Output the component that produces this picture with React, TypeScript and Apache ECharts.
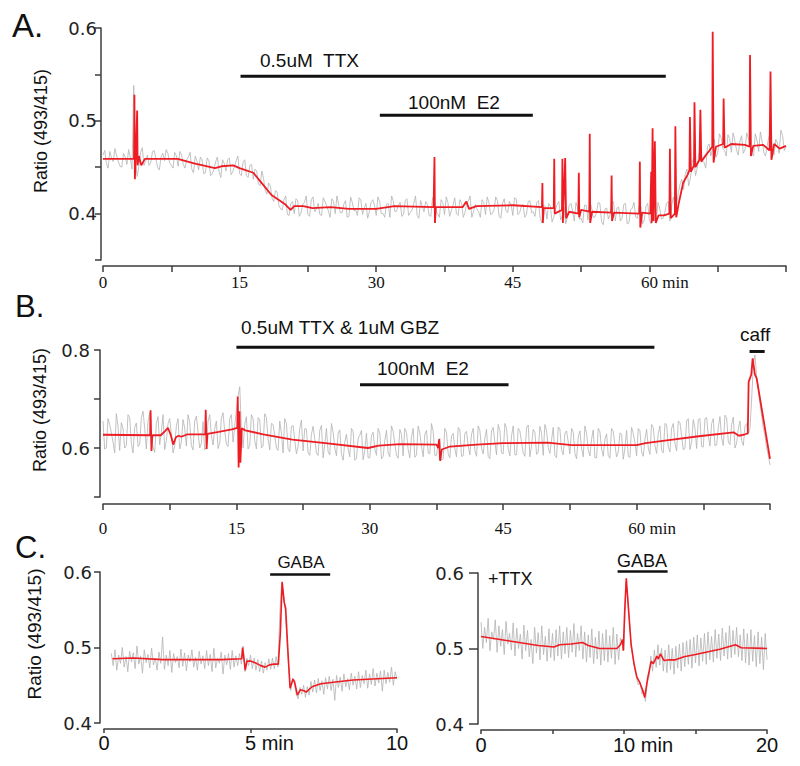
import React, { useEffect, useRef } from "react";
import * as echarts from "echarts";

// ---------------- DATA ----------------
// Panel A: raw (gray) ratio trace, sampled every 0.1875 min from 0 to 75 min, values x1000
const grayAStep = 0.1875;
const grayA = [
  463,468,454,449,467,460,456,470,462,456,451,450,465,461,453,469,460,448,538,455,
  440,451,466,471,452,457,463,452,455,467,468,459,450,447,461,465,457,469,465,455,
  452,449,466,462,451,467,463,453,449,458,461,466,448,444,462,457,447,461,458,443,
  444,460,457,441,443,448,456,461,445,439,458,454,446,458,460,442,445,451,457,462,
  443,441,455,458,441,439,452,453,437,448,446,432,430,446,438,425,421,433,430,417,
  413,425,423,409,405,404,415,419,399,398,411,413,400,416,414,397,401,410,412,419,
  399,397,415,418,402,405,411,399,398,417,413,408,403,396,416,413,400,419,410,401,
  401,410,414,396,397,418,412,403,404,398,417,415,399,406,411,395,402,412,415,409,
  398,418,413,400,400,396,410,411,396,419,414,402,403,409,412,397,399,414,416,398,
  401,404,411,419,398,395,414,408,402,413,410,398,397,417,413,402,400,396,415,412,
  399,418,412,397,403,409,417,400,398,415,411,396,401,411,414,419,396,402,410,405,
  402,396,415,412,399,418,412,399,400,404,418,414,397,395,411,416,403,401,413,410,
  398,417,416,399,401,408,410,396,399,413,414,401,402,397,412,414,395,390,409,408,
  394,411,408,391,396,404,410,413,393,398,407,389,397,409,411,403,392,412,406,394,
  395,390,409,409,393,413,408,396,396,401,412,411,391,388,405,406,394,399,410,413,
  392,406,407,392,395,410,411,389,390,404,406,412,396,395,409,408,389,393,408,411,
  393,389,410,407,391,412,406,394,395,401,411,413,392,408,418,404,410,423,432,437,
  426,442,448,430,438,455,460,441,449,465,468,457,455,449,472,475,462,470,480,461,
  465,486,482,470,468,462,485,481,466,487,479,469,463,478,484,465,469,487,481,476,
  464,462,486,479,467,488,478,466,462,473,483,487,470,463,480,476,465,490,484,468,
  472,
];
// Panel A: filtered (red) trace [min, ratio]
const redA: [number, number][] = [
  [0,0.459],[3.4,0.459],[3.45,0.528],[3.5,0.437],[3.6,0.46],[3.75,0.511],[3.8,0.452],[3.95,0.462],
  [4.2,0.452],[4.6,0.459],[8.2,0.459],[10,0.454],[12.3,0.449],[13,0.451],[14.3,0.452],[15,0.449],
  [16.5,0.444],[17.5,0.432],[18.5,0.42],[20,0.41],[20.6,0.404],[21,0.408],[22,0.408],[23,0.406],
  [25,0.407],[27,0.405],[30,0.405],[32,0.408],[36.3,0.407],[36.4,0.461],[36.45,0.39],[36.55,0.407],
  [39.5,0.407],[39.9,0.413],[40.2,0.405],[41,0.408],[45,0.409],[48.2,0.407],[48.25,0.433],[48.3,0.39],
  [48.4,0.406],[49.5,0.406],[49.55,0.459],[49.6,0.4],[50.4,0.404],[50.45,0.459],[50.5,0.39],[50.75,0.46],
  [50.85,0.395],[51.2,0.402],[52.2,0.4],[52.25,0.444],[52.3,0.396],[52.5,0.404],[53.4,0.402],[53.45,0.486],
  [53.5,0.39],[53.7,0.402],[55.8,0.401],[55.85,0.441],[55.9,0.392],[56.1,0.401],[58.9,0.4],[58.95,0.456],
  [59.0,0.385],[59.2,0.401],[60.1,0.4],[60.2,0.445],[60.25,0.39],[60.35,0.492],[60.45,0.392],[60.6,0.478],
  [60.7,0.39],[61,0.398],[61.6,0.398],[62.2,0.4],[62.25,0.47],[62.35,0.395],[62.8,0.4],[62.85,0.494],
  [62.95,0.396],[63.2,0.41],[63.7,0.433],[64.2,0.442],[64.4,0.447],[64.45,0.504],[64.55,0.445],[64.9,0.452],
  [64.95,0.52],[65.05,0.45],[65.5,0.458],[65.6,0.512],[65.7,0.456],[66.2,0.463],[66.6,0.468],[66.9,0.472],
  [66.95,0.596],[67.05,0.455],[67.3,0.472],[68.1,0.475],[68.15,0.524],[68.25,0.471],[69,0.475],[70.5,0.474],
  [71.0,0.472],[71.05,0.571],[71.15,0.462],[71.4,0.473],[72.5,0.474],[73.2,0.468],[73.3,0.553],[73.4,0.458],
  [73.7,0.475],[74.3,0.47],[75,0.473],
];
const ttxA = [15.1, 61.8];
const e2A = [30.4, 47.2];

// Panel B: raw trace, every 0.1875 min from 0 to 75 min, values x1000
const grayBStep = 0.1875;
const grayB = [
  655,598,600,660,648,631,612,590,670,645,595,652,640,600,605,668,662,610,590,642,
  651,603,608,662,675,640,598,655,672,615,602,591,650,664,607,632,668,597,615,650,
  660,628,590,604,645,660,598,612,658,640,604,668,652,605,596,655,665,633,600,610,
  654,596,602,655,668,627,606,640,655,599,610,661,672,634,608,603,660,668,612,645,
  678,705,725,640,600,648,664,598,605,668,660,615,598,662,657,600,604,670,662,618,
  596,650,648,625,600,595,655,630,590,660,650,598,592,644,646,615,588,603,640,657,
  594,640,638,590,585,628,644,618,590,585,636,646,580,607,640,592,586,650,632,600,
  584,630,637,588,575,612,628,598,582,640,634,575,579,620,626,636,576,595,630,580,
  580,625,632,598,585,640,630,578,583,615,636,590,582,645,634,608,586,579,638,628,
  584,640,632,597,580,622,640,581,586,645,630,604,582,628,636,590,588,650,634,585,
  585,612,620,575,578,640,632,588,580,625,630,598,582,642,637,583,584,630,634,605,
  586,628,640,595,583,645,636,600,588,620,638,583,578,635,642,612,586,648,636,590,
  588,650,640,598,584,625,645,586,586,640,635,612,590,583,641,647,582,605,638,632,
  587,592,644,630,585,648,636,601,589,617,642,585,580,643,639,596,586,630,635,612,
  588,640,632,589,578,622,635,600,582,645,630,596,584,618,637,580,580,640,633,598,
  583,618,629,585,579,640,634,606,582,592,631,628,577,600,636,583,581,642,630,610,
  584,640,635,592,583,618,638,600,587,648,642,605,589,630,645,595,590,650,648,602,
  592,640,650,610,594,655,652,625,596,600,655,660,597,612,658,640,599,658,660,603,
  602,660,662,625,604,650,660,605,606,642,664,620,605,667,661,612,607,648,663,600,
  610,640,655,615,605,645,650,628,640,700,770,790,745,720,690,665,640,625,600,585,
  565,
];
const redB: [number, number][] = [
  [0,0.627],[5.3,0.626],[5.35,0.677],[5.45,0.594],[5.55,0.626],[6.5,0.626],[7.0,0.635],[7.3,0.641],
  [7.6,0.628],[7.9,0.607],[8.2,0.622],[8.5,0.625],[8.8,0.623],[9.5,0.628],[11.5,0.628],[11.55,0.678],
  [11.65,0.598],[11.75,0.629],[13,0.633],[14.5,0.638],[15.1,0.641],[15.15,0.705],[15.25,0.56],[15.35,0.675],
  [15.45,0.57],[15.6,0.64],[16,0.636],[18,0.628],[21.3,0.617],[25,0.61],[29.8,0.6],[31,0.605],
  [33.4,0.608],[37.5,0.607],[37.7,0.6],[37.8,0.618],[37.9,0.574],[38.1,0.597],[39,0.603],[42,0.607],
  [45,0.61],[50,0.611],[52.7,0.606],[60,0.606],[61,0.61],[63.6,0.616],[67,0.624],[70.9,0.632],
  [71.5,0.625],[72.2,0.628],[72.5,0.63],[72.6,0.735],[72.9,0.75],[73.05,0.783],[73.3,0.75],[73.5,0.742],
  [75,0.578],
];
const ttxGbzB = [15.0, 62.0];
const e2B = [28.9, 45.6];
const caffB = [72.7, 74.4];

// Panel C (left): raw trace every 0.0625 min from 0.25 to 10 min, values x1000
const grayC1Start = 0.25;
const grayC1Step = 0.0625;
const grayC1 = [
  492,476,497,470,490,479,500,474,488,468,
  495,481,493,472,502,478,489,466,497,480,
  491,473,499,477,486,470,494,479,514,471,
  490,476,496,467,492,480,488,473,498,475,
  493,469,490,481,497,474,487,470,495,478,
  489,472,496,476,491,468,499,473,486,479,
  494,465,490,477,492,471,496,474,489,476,
  492,478,502,468,486,476,490,472,486,470,
  484,468,482,466,480,470,485,471,486,472,
  488,474,545,585,568,548,505,468,443,460,
  452,438,432,447,438,450,434,448,437,455,
  441,457,440,459,443,456,438,460,445,462,
  443,458,430,463,447,461,442,465,448,459,
  444,466,450,462,445,468,447,463,452,470,
  446,465,451,472,449,466,453,469,442,470,
  452,467,454,474,450,468,458,
];
const redC1: [number, number][] = [
  [0.29,0.485],[1,0.486],[2,0.484],[3,0.484],[4,0.484],[4.7,0.485],[4.73,0.5],[4.78,0.484],
  [4.82,0.47],[4.88,0.482],[5.0,0.482],[5.2,0.479],[5.35,0.476],[5.5,0.474],[5.65,0.477],[5.8,0.478],
  [5.95,0.478],[6.02,0.52],[6.08,0.587],[6.15,0.56],[6.2,0.552],[6.27,0.5],[6.35,0.446],[6.45,0.458],
  [6.5,0.455],[6.6,0.437],[6.7,0.444],[6.8,0.443],[6.9,0.441],[7.1,0.448],[7.4,0.452],[7.83,0.454],
  [8.5,0.457],[9,0.458],[10,0.46],
];
const gabaC1 = [5.67, 7.72];

// Panel C (right, +TTX): raw trace every 0.125 min from 0 to 20 min, values x1000
const grayC2Step = 0.125;
const grayC2 = [
  535,500,528,508,540,497,522,512,538,495,
  530,503,525,492,536,506,520,498,534,490,
  527,500,519,486,531,497,524,489,512,480,
  528,494,521,485,530,492,516,483,526,488,
  520,484,525,490,530,486,522,493,528,488,
  524,495,533,489,520,497,530,486,522,482,
  518,488,526,480,515,486,523,478,520,484,
  525,482,517,487,528,479,519,485,514,508,
  498,588,570,538,503,488,472,462,452,455,
  440,445,430,455,462,490,470,498,475,505,
  478,500,470,498,468,505,472,500,466,503,
  474,506,470,508,476,510,479,512,474,515,
  481,518,477,514,483,520,479,522,485,516,
  482,525,487,519,484,527,490,521,486,530,
  488,524,492,528,489,518,484,526,481,520,
  478,525,483,517,476,522,480,515,472,520,
  485,
];
const redC2: [number, number][] = [
  [0,0.516],[1,0.513],[2,0.51],[3,0.507],[4,0.504],[5.1,0.502],[5.5,0.505],[6.3,0.506],
  [7.1,0.508],[7.5,0.504],[8.3,0.5],[9.5,0.5],[9.75,0.505],[9.9,0.512],[9.95,0.497],[10.05,0.55],
  [10.16,0.593],[10.3,0.556],[10.4,0.53],[10.5,0.505],[10.7,0.48],[10.9,0.462],[11.1,0.455],[11.3,0.445],
  [11.45,0.435],[11.65,0.46],[11.9,0.483],[12.05,0.48],[12.3,0.49],[12.4,0.486],[12.55,0.493],[12.8,0.484],
  [13.2,0.485],[13.6,0.485],[14.2,0.489],[15,0.492],[16.7,0.499],[17.8,0.505],[18.2,0.501],[20,0.5],
];
const gabaC2 = [9.55, 13.05];

// tick labels
const yLabelsA = [0.4, 0.5, 0.6];
const yLabelsB = [0.6, 0.8];
const xLabelsAB = [0, 15, 30, 45];
const xUnitTickAB = 60;
const xLabelsC1 = [0, 10];
const xUnitTickC1 = 5;
const xLabelsC2 = [0, 20];
const xUnitTickC2 = 10;
const yTitle = "Ratio (493/415)";

// ---------------- CHART ----------------
const AXIS = "#3d3d3d";
const GRAY = "#b3b3b3";
const RED = "#ee1d23";
const SANS = '"Liberation Sans", Arial, sans-serif';
const SERIF = '"Liberation Serif", "Times New Roman", serif';
const WIDE = '"DejaVu Sans", sans-serif';

const rawSeries = (vals: number[], start: number, step: number) =>
  vals.map((v, i) => [start + i * step, v / 1000]);

function axisStyle(tickLen: number) {
  return {
    axisLine: { show: true, onZero: false, lineStyle: { color: AXIS, width: 1.5 } },
    axisTick: { show: true, length: tickLen, lineStyle: { color: AXIS, width: 1.5 } },
    splitLine: { show: false },
  };
}

function xAxisDef(grid: number, max: number, interval: number, offset: number, margin: number,
  labels: number[], unitTick: number, family: string, size: number, padW: number, tickLen: number) {
  return {
    type: "value", gridIndex: grid, min: 0, max, interval, offset,
    ...axisStyle(tickLen),
    axisLabel: {
      margin, color: "#111", fontFamily: family, fontSize: size,
      showMinLabel: true, showMaxLabel: true,
      formatter: (v: number) => {
        const r = Math.round(v * 100);
        if (r === Math.round(unitTick * 100)) return `{p| }{v|${unitTick}}{u| min}`;
        return labels.some((l) => Math.round(l * 100) === r) ? String(Math.round(v)) : "";
      },
      rich: {
        p: { width: padW, fontFamily: family, fontSize: size },
        v: { fontFamily: family, fontSize: size, color: "#111" },
        u: { fontFamily: family, fontSize: size, color: "#111" },
      },
    },
  };
}

function yAxisDef(grid: number, min: number, max: number, interval: number, offset: number,
  margin: number, labels: number[] | null, tickLen: number) {
  return {
    type: "value", gridIndex: grid, min, max, interval, offset,
    ...axisStyle(tickLen),
    axisLabel: {
      margin, color: "#222", fontFamily: WIDE, fontSize: 18,
      formatter: (v: number) => {
        const r = Math.round(v * 100);
        if (!labels || labels.some((l) => Math.round(l * 100) === r)) return (r / 100).toFixed(1);
        return "";
      },
    },
  };
}

function traceSeries(grid: number, data: number[][], color: string, width: number) {
  return {
    type: "line", xAxisIndex: grid, yAxisIndex: grid, data, symbol: "none",
    showSymbol: false, silent: true, lineStyle: { color, width }, z: color === RED ? 3 : 2,
  };
}

function barSeries(grid: number, range: number[], level: number, width: number) {
  return {
    type: "line", xAxisIndex: grid, yAxisIndex: grid, symbol: "none", silent: true, clip: false,
    data: [[range[0], level], [range[1], level]], lineStyle: { color: "#111", width }, z: 4,
  };
}

function txt(text: string, x: number, y: number, size: number, align = "left", rotation = 0, family = SANS) {
  return {
    type: "text", x, y, rotation, silent: true,
    style: {
      text, fill: "#111", font: `${size}px ${family}`, fontSize: size, fontFamily: family,
      align, textAlign: align, verticalAlign: "middle", textVerticalAlign: "middle",
    },
  };
}

function buildOption() {
  return {
    animation: false,
    backgroundColor: "#ffffff",
    grid: [
      { left: 103, top: 28, width: 683, height: 232 },
      { left: 103, top: 350, width: 667, height: 147 },
      { left: 104, top: 572, width: 293, height: 151 },
      { left: 481, top: 573, width: 286, height: 151 },
    ],
    xAxis: [
      xAxisDef(0, 75, 7.5, 6, 8, xLabelsAB, xUnitTickAB, SERIF, 17, 31, 6),
      xAxisDef(1, 75, 7.5, 7, 16, xLabelsAB, xUnitTickAB, SERIF, 17, 31, 6),
      xAxisDef(2, 10, 5, 6, 4, xLabelsC1, xUnitTickC1, SANS, 20, 38, 4),
      xAxisDef(3, 20, 5, 6, 5, xLabelsC2, xUnitTickC2, SANS, 20, 38, 4),
    ],
    yAxis: [
      yAxisDef(0, 0.35, 0.6, 0.05, 2, 4, yLabelsA, 6),
      yAxisDef(1, 0.5, 0.8, 0.1, 3, 10, yLabelsB, 6),
      yAxisDef(2, 0.4, 0.6, 0.1, 4, 8, null, 6),
      yAxisDef(3, 0.4, 0.6, 0.1, 3, 14, null, 9),
    ],
    series: [
      traceSeries(0, rawSeries(grayA, 0, grayAStep), GRAY, 0.8),
      traceSeries(0, redA, RED, 1.8),
      barSeries(0, ttxA, 0.548, 3),
      barSeries(0, e2A, 0.506, 3),
      traceSeries(1, rawSeries(grayB, 0, grayBStep), GRAY, 0.8),
      traceSeries(1, redB, RED, 1.8),
      barSeries(1, ttxGbzB, 0.8055, 3),
      barSeries(1, e2B, 0.729, 3),
      barSeries(1, caffB, 0.797, 3),
      traceSeries(2, rawSeries(grayC1, grayC1Start, grayC1Step), GRAY, 0.8),
      traceSeries(2, redC1, RED, 1.6),
      barSeries(2, gabaC1, 0.5966, 2.5),
      traceSeries(3, rawSeries(grayC2, 0, grayC2Step), GRAY, 0.8),
      traceSeries(3, redC2, RED, 1.6),
      barSeries(3, gabaC2, 0.602, 2.5),
    ],
    graphic: [
      txt("A.", 12, 25, 33),
      txt("B.", 15, 306, 31),
      txt("C.", 15, 547, 31),
      txt(yTitle, 41, 131, 18, "center", Math.PI / 2),
      txt(yTitle, 40, 410, 18, "center", Math.PI / 2),
      txt(yTitle, 34, 634, 19, "center", Math.PI / 2),
      txt("0.5uM  TTX", 260, 60, 19),
      txt("100nM  E2", 408, 102, 19),
      txt("0.5uM TTX & 1uM GBZ", 241, 327, 19),
      txt("100nM  E2", 377, 368, 19),
      txt("caff", 740, 334, 19),
      txt("GABA", 301, 562, 17, "center"),
      txt("GABA", 642, 561, 18, "center"),
      txt("+TTX", 488, 579, 18),
    ],
  };
}

export default function App() {
  const ref = useRef<HTMLDivElement>(null);
  useEffect(() => {
    if (!ref.current) return;
    const chart = echarts.init(ref.current, null, { renderer: "svg" });
    chart.setOption(buildOption() as any);
    return () => chart.dispose();
  }, []);
  return (
    <div
      ref={ref}
      style={{ position: "fixed", left: 0, top: 0, width: 800, height: 766, background: "#fff" }}
    />
  );
}
